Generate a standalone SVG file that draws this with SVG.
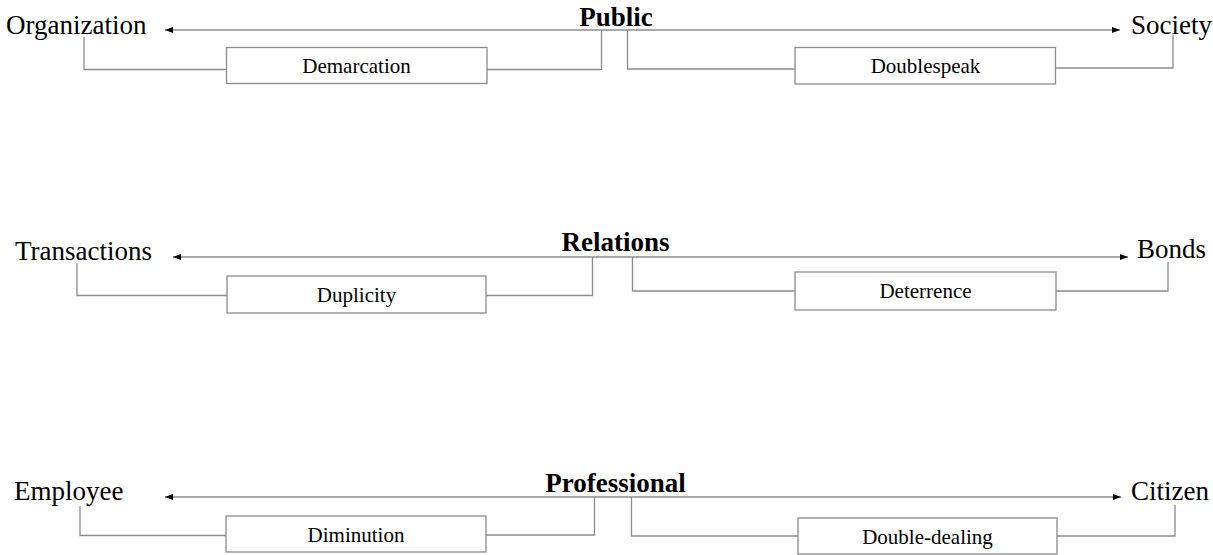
<svg xmlns="http://www.w3.org/2000/svg" width="1213" height="555" viewBox="0 0 1213 555">
  <style>
    .bg { fill: #ffffff; }
    .end { font-family: "Liberation Serif", "Times New Roman", serif; font-size: 27px; fill: #000; }
    .hub { font-family: "Liberation Serif", "Times New Roman", serif; font-size: 27px; font-weight: bold; fill: #000; text-anchor: middle; }
    .box rect { fill: #ffffff; stroke: #8c8c8c; stroke-width: 1.3; }
    .box text { font-family: "Liberation Serif", "Times New Roman", serif; font-size: 21px; fill: #000; text-anchor: middle; }
    .axis { fill: none; stroke: #8c8c8c; stroke-width: 1.3; marker-start: url(#tip); marker-end: url(#tip); }
    .link { fill: none; stroke: #8c8c8c; stroke-width: 1.3; }
  </style>
  <defs>
    <marker id="tip" viewBox="0 0 8 6" refX="8" refY="3" markerWidth="8" markerHeight="6" markerUnits="userSpaceOnUse" orient="auto-start-reverse">
      <path d="M0,0 L8,3 L0,6 z" fill="#000"/>
    </marker>
  </defs>
  <rect class="bg" x="0" y="0" width="1213" height="555"/>

  <!-- connectors -->
  <g id="connectors">
    <!-- row 1 -->
    <path class="axis" d="M165,30 H1120"/>
    <path class="link" d="M601.5,30 V69.5 H487"/>
    <path class="link" d="M226.5,69.5 H84 V37"/>
    <path class="link" d="M627.5,30 V69 H795"/>
    <path class="link" d="M1055.5,68 H1173 V35"/>
    <!-- row 2 -->
    <path class="axis" d="M173,257 H1128"/>
    <path class="link" d="M592.5,257 V295.5 H486"/>
    <path class="link" d="M227,295.5 H77 V263"/>
    <path class="link" d="M632.5,257 V291 H795"/>
    <path class="link" d="M1056,291 H1168 V262"/>
    <!-- row 3 -->
    <path class="axis" d="M165,497 H1121"/>
    <path class="link" d="M594.5,497 V535 H486"/>
    <path class="link" d="M226,535.5 H80 V506"/>
    <path class="link" d="M631.5,497 V536 H798"/>
    <path class="link" d="M1057,536 H1175 V505"/>
  </g>

  <!-- row 1: Public -->
  <g id="organization"><text class="end" x="6" y="34">Organization</text></g>
  <g id="public"><text class="hub" x="616" y="26">Public</text></g>
  <g id="society"><text class="end" x="1131" y="33.5">Society</text></g>
  <g id="demarcation" class="box">
    <rect x="226.5" y="47.5" width="260.5" height="36"/>
    <text x="356.5" y="73">Demarcation</text>
  </g>
  <g id="doublespeak" class="box">
    <rect x="795" y="47.5" width="260.5" height="36.5"/>
    <text x="925.5" y="73">Doublespeak</text>
  </g>

  <!-- row 2: Relations -->
  <g id="transactions"><text class="end" x="15" y="260">Transactions</text></g>
  <g id="relations"><text class="hub" x="615.5" y="251">Relations</text></g>
  <g id="bonds"><text class="end" x="1137" y="258">Bonds</text></g>
  <g id="duplicity" class="box">
    <rect x="227" y="276" width="259" height="37"/>
    <text x="356.5" y="302">Duplicity</text>
  </g>
  <g id="deterrence" class="box">
    <rect x="795" y="272" width="261" height="38"/>
    <text x="925.5" y="298">Deterrence</text>
  </g>

  <!-- row 3: Professional -->
  <g id="employee"><text class="end" x="14" y="500">Employee</text></g>
  <g id="professional"><text class="hub" x="615.5" y="492">Professional</text></g>
  <g id="citizen"><text class="end" x="1131" y="500">Citizen</text></g>
  <g id="diminution" class="box">
    <rect x="226" y="516" width="260" height="36"/>
    <text x="356" y="542">Diminution</text>
  </g>
  <g id="double-dealing" class="box">
    <rect x="798" y="518" width="259" height="36"/>
    <text x="927.5" y="544">Double-dealing</text>
  </g>
</svg>
